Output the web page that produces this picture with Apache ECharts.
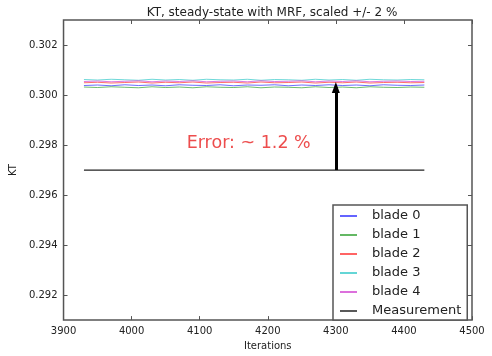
<!DOCTYPE html>
<html><head><meta charset="utf-8">
<script src="https://cdn.jsdelivr.net/npm/echarts@6/dist/echarts.min.js"></script>
<style>html,body{margin:0;padding:0;background:#fff}#c{width:492px;height:356px}</style>
</head><body><div id="c"></div>
<script>
const iterations = [3930,3950,3970,3990,4010,4030,4050,4070,4090,4110,4130,4150,4170,4190,4210,4230,4250,4270,4290,4310,4330,4350,4370,4390,4410,4430];
const blade0 = [0.30038,0.30040,0.30037,0.30041,0.30038,0.30040,0.30037,0.30041,0.30039,0.30038,0.30041,0.30037,0.30040,0.30039,0.30041,0.30037,0.30040,0.30038,0.30041,0.30038,0.30040,0.30037,0.30041,0.30039,0.30038,0.30040];
const blade1 = [0.30032,0.30030,0.30033,0.30031,0.30029,0.30033,0.30030,0.30032,0.30029,0.30033,0.30031,0.30030,0.30033,0.30029,0.30032,0.30031,0.30029,0.30033,0.30030,0.30032,0.30029,0.30033,0.30031,0.30030,0.30032,0.30031];
const blade2 = [0.30049,0.30051,0.30048,0.30050,0.30052,0.30048,0.30051,0.30049,0.30052,0.30048,0.30050,0.30051,0.30048,0.30052,0.30049,0.30050,0.30052,0.30048,0.30051,0.30049,0.30052,0.30048,0.30050,0.30051,0.30049,0.30050];
const blade3 = [0.30062,0.30060,0.30063,0.30061,0.30059,0.30063,0.30060,0.30062,0.30059,0.30063,0.30061,0.30060,0.30063,0.30059,0.30062,0.30061,0.30059,0.30063,0.30060,0.30062,0.30059,0.30063,0.30061,0.30060,0.30062,0.30061];
const blade4 = [0.30054,0.30056,0.30053,0.30055,0.30057,0.30053,0.30056,0.30054,0.30057,0.30053,0.30055,0.30056,0.30053,0.30057,0.30054,0.30055,0.30057,0.30053,0.30056,0.30054,0.30057,0.30053,0.30055,0.30056,0.30054,0.30055];
const measurement = [0.297,0.297];
const measurementX = [3930,4430];
const arrowX = 4300, arrowFrom = 0.297, arrowTo = 0.3003;
const annotation = {x: 4172, y: 0.29805, text: 'Error: ~ 1.2 %'};
const yTicks = [0.292,0.294,0.296,0.298,0.300,0.302];
const names = ['blade 0','blade 1','blade 2','blade 3','blade 4','Measurement'];
const colors = ['#3030ff','#30a030','#ff3030','#30c8c8','#d040d0','#222222'];
const bladeData = [blade0,blade1,blade2,blade3,blade4];

const font = 'DejaVu Sans';
const series = bladeData.map((arr,i)=>({
  name: names[i], type:'line', showSymbol:false, symbol:'none',
  data: iterations.map((x,j)=>[x,arr[j]]),
  lineStyle:{width:1,color:colors[i],opacity:0.7}, itemStyle:{color:colors[i]}, z:2, animation:false
}));
series.push({name:'Measurement', type:'line', symbol:'none', data: measurementX.map((x,j)=>[x,measurement[j]]),
  lineStyle:{width:1.2,color:colors[5]}, itemStyle:{color:colors[5]}, animation:false});
series.push({name:'arrow', type:'line', symbol:'none', data:[], animation:false,
  markLine:{silent:true, symbol:['none','triangle'], symbolSize:[8,11],
    label:{show:false}, lineStyle:{color:'#000',width:3,type:'solid'},
    data:[[{coord:[arrowX,arrowFrom]},{coord:[arrowX,arrowTo]}]]}});
series.push({name:'note', type:'scatter', symbolSize:0, data:[[annotation.x,annotation.y]], animation:false,
  label:{show:true, position:'inside', formatter: annotation.text, color:'#e82020', fontSize:17.5, fontFamily:font}});

const chart = echarts.init(document.getElementById('c'));
chart.setOption({
  animation:false,
  title:{text:'KT, steady-state with MRF, scaled +/- 2 %', left:267, textAlign:'center', top:2,
    textStyle:{fontSize:12, fontWeight:'normal', color:'#222', fontFamily:font}},
  grid:{left:62,right:20,top:20,bottom:30,show:true,borderColor:'#555',borderWidth:1.5,backgroundColor:'#fff'},
  legend:{data:names, orient:'vertical', left:333, top:205, itemWidth:17, itemHeight:1.5, itemGap:5,
    icon:'rect', backgroundColor:'#fff', borderColor:'#555', borderWidth:1.5, borderRadius:0,
    padding:[4,6,2,7], textStyle:{fontSize:13, color:'#222', fontFamily:font, padding:[0,0,0,10], lineHeight:14}},
  xAxis:[{type:'value', min:3900, max:4500, interval:100, name:'Iterations', nameLocation:'middle', nameGap:19,
    nameTextStyle:{fontSize:10,color:'#222',fontFamily:font},
    axisLine:{show:false}, splitLine:{show:false},
    axisTick:{inside:true,length:4,lineStyle:{color:'#555'}},
    axisLabel:{fontSize:10,color:'#222',fontFamily:font,margin:6,formatter:v=>String(v)}},
   {type:'value', position:'top', min:3900, max:4500, interval:100, axisLine:{show:false}, splitLine:{show:false},
    axisTick:{inside:true,length:4,lineStyle:{color:'#555'}}, axisLabel:{show:false}}],
  yAxis:[{type:'value', min:0.291, max:0.303, name:'KT', nameLocation:'middle', nameGap:40, nameRotate:90,
    nameTextStyle:{fontSize:10,color:'#222',fontFamily:font},
    axisLine:{show:false}, splitLine:{show:false},
    axisTick:{inside:true,length:4,customValues:yTicks,lineStyle:{color:'#555'}},
    axisLabel:{fontSize:10,color:'#222',fontFamily:font,margin:6,customValues:yTicks,formatter:v=>v.toFixed(3)}},
   {type:'value', position:'right', min:0.291, max:0.303, axisLine:{show:false}, splitLine:{show:false},
    axisTick:{inside:true,length:4,customValues:yTicks,lineStyle:{color:'#555'}}, axisLabel:{show:false}}],
  series: series
});
</script></body></html>
